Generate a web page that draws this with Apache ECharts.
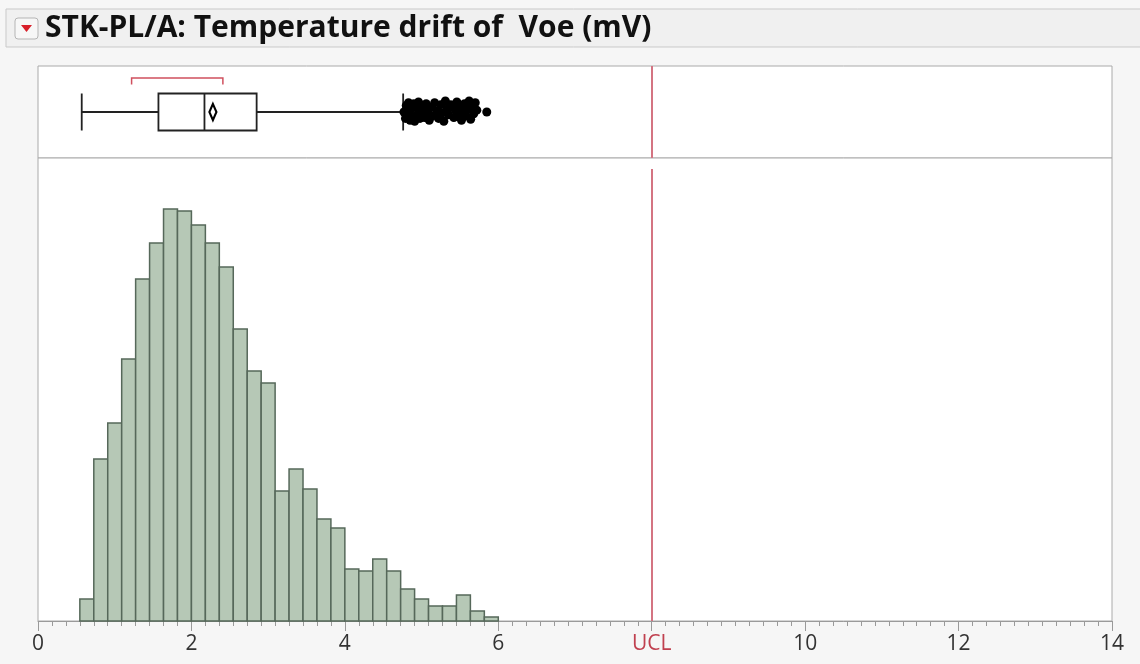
<!DOCTYPE html>
<html>
<head>
<meta charset="utf-8">
<script src="https://cdn.jsdelivr.net/npm/echarts@6.0.0/dist/echarts.min.js"></script>
<style>
html, body { margin: 0; padding: 0; background: #f6f6f6; }
#chart { width: 1140px; height: 664px; }
</style>
</head>
<body>
<div id="chart"></div>
<script>
// histogram bins (mV) and counts
var binStart = 6 / 11
var binWidth = 2 / 11
var counts = [22, 162, 198, 262, 342, 378, 412, 410, 396, 378, 354, 292, 250, 238, 130,
              152, 132, 102, 93, 52, 50, 62, 50, 32, 22, 15, 15, 26, 10, 4]

// box plot summary: min whisker, Q1, median, Q3, max whisker
var boxStats = [0.57, 1.57, 2.17, 2.85, 4.76]
var meanVal = 2.28
var shortestHalf = [1.22, 2.41]
var ucl = 8

// outliers beyond the upper whisker, with their jitter
var outX = [4.77, 4.79, 4.80, 4.82, 4.83, 4.85, 4.86, 4.88, 4.90, 4.91, 4.93, 4.95, 4.96, 4.98,
            5.00, 5.02, 5.04, 5.06, 5.08, 5.10, 5.12, 5.15, 5.17, 5.20, 5.22, 5.25, 5.27, 5.29,
            5.31, 5.33, 5.35, 5.38, 5.40, 5.42, 5.44, 5.46, 5.48, 5.50, 5.52, 5.54, 5.56, 5.58,
            5.60, 5.62, 5.64, 5.66, 5.68, 5.70, 5.72, 5.85]
var outY = [0.50, 0.43, 0.57, 0.47, 0.60, 0.41, 0.53, 0.45, 0.59, 0.40, 0.55, 0.48, 0.61, 0.43,
            0.52, 0.57, 0.44, 0.59, 0.50, 0.41, 0.55, 0.46, 0.60, 0.51, 0.43, 0.58, 0.49, 0.40,
            0.62, 0.53, 0.47, 0.58, 0.56, 0.44, 0.52, 0.61, 0.45, 0.55, 0.41, 0.50, 0.59, 0.46,
            0.53, 0.62, 0.42, 0.56, 0.48, 0.60, 0.52, 0.50]

var tickLabels = { 8: 'UCL' }

var barData = counts.map(function (c, i) {
    return [binStart + i * binWidth, binStart + (i + 1) * binWidth, c]
})
var outData = outX.map(function (x, i) { return [x, outY[i]] })

var redLine = '#d47482'
var chart = echarts.init(document.getElementById('chart'))
chart.setOption({
    animation: false,
    backgroundColor: '#f6f6f6',
    title: {
        text: 'STK-PL/A: Temperature drift of  Voe (mV)',
        left: 40,
        top: 8,
        textStyle: { fontFamily: 'Open Sans', fontWeight: 'bold', fontSize: 30, color: '#111' }
    },
    graphic: [
        {
            type: 'rect', z: -1,
            shape: { x: 6, y: 9, width: 1150, height: 38 },
            style: { fill: '#f0f0f0', stroke: '#c9c9c9', lineWidth: 1 }
        },
        {
            type: 'rect',
            shape: { x: 15, y: 18, width: 23, height: 21, r: 3 },
            style: { fill: '#f7f7f7', stroke: '#b5b5b5', lineWidth: 1 }
        },
        {
            type: 'polygon',
            shape: { points: [[21, 25], [32, 25], [26.5, 32]] },
            style: { fill: '#d8202a' }
        }
    ],
    grid: [
        { left: 38, right: 28, top: 66, height: 92, show: true, backgroundColor: '#fff', borderColor: '#aaa', borderWidth: 1 },
        { left: 38, right: 28, top: 158, height: 463, show: true, backgroundColor: '#fff', borderColor: '#aaa', borderWidth: 1 }
    ],
    xAxis: [
        { gridIndex: 0, type: 'value', min: 0, max: 14, show: false },
        {
            gridIndex: 1, type: 'value', min: 0, max: 14, interval: 2,
            splitLine: { show: false },
            axisLine: { lineStyle: { color: '#9a9a9a', width: 1 } },
            axisTick: { length: 10, lineStyle: { color: '#9a9a9a' } },
            minorTick: { show: true, splitNumber: 11, length: 5, lineStyle: { color: '#9a9a9a' } },
            axisLabel: {
                margin: 13, fontSize: 21, fontFamily: 'Open Sans', color: '#333',
                formatter: function (v) { return tickLabels[v] ? '{u|' + tickLabels[v] + '}' : String(v) },
                rich: { u: { fontSize: 21, fontFamily: 'Open Sans', color: '#c0404f' } }
            }
        }
    ],
    yAxis: [
        { gridIndex: 0, type: 'category', data: ['box'], show: false },
        { gridIndex: 0, type: 'value', min: 0, max: 1, show: false },
        { gridIndex: 1, type: 'value', min: 0, max: 463, show: false }
    ],
    series: [
        {
            type: 'custom',
            xAxisIndex: 1, yAxisIndex: 2,
            data: barData,
            renderItem: function (params, api) {
                var p0 = api.coord([api.value(0), 0])
                var p1 = api.coord([api.value(1), api.value(2)])
                return {
                    type: 'rect',
                    shape: { x: p0[0], y: p1[1], width: p1[0] - p0[0], height: p0[1] - p1[1] },
                    style: { fill: '#b6c8b6', stroke: '#56685a', lineWidth: 1.5 }
                }
            },
            markLine: {
                silent: true, symbol: 'none', label: { show: false },
                lineStyle: { color: redLine, width: 2, type: 'solid' },
                data: [[{ coord: [ucl, 452] }, { coord: [ucl, 0] }]]
            }
        },
        {
            type: 'boxplot',
            xAxisIndex: 0, yAxisIndex: 0,
            data: [boxStats],
            boxWidth: [37, 37],
            itemStyle: { color: '#fff', borderColor: '#222', borderWidth: 1.8 },
            markLine: {
                silent: true, symbol: 'none', label: { show: false },
                lineStyle: { color: redLine, width: 2, type: 'solid' },
                data: [{ xAxis: ucl }]
            }
        },
        {
            type: 'scatter',
            xAxisIndex: 0, yAxisIndex: 1,
            data: [[meanVal, 0.5]],
            symbol: 'diamond',
            symbolSize: [7, 16],
            itemStyle: { color: '#fff', borderColor: '#000', borderWidth: 2.5, opacity: 1 }
        },
        {
            type: 'scatter',
            xAxisIndex: 0, yAxisIndex: 1,
            data: outData,
            symbolSize: 9,
            itemStyle: { color: '#000', opacity: 1 }
        },
        {
            type: 'custom',
            xAxisIndex: 0, yAxisIndex: 1,
            data: [[shortestHalf[0], shortestHalf[1]]],
            renderItem: function (params, api) {
                var a = api.coord([api.value(0), 0.80])
                var b = api.coord([api.value(0), 0.87])
                var c = api.coord([api.value(1), 0.87])
                var d = api.coord([api.value(1), 0.80])
                return {
                    type: 'polyline',
                    shape: { points: [a, b, c, d] },
                    style: { stroke: '#d0505e', lineWidth: 1.5, fill: null }
                }
            }
        }
    ]
})
</script>
</body>
</html>
